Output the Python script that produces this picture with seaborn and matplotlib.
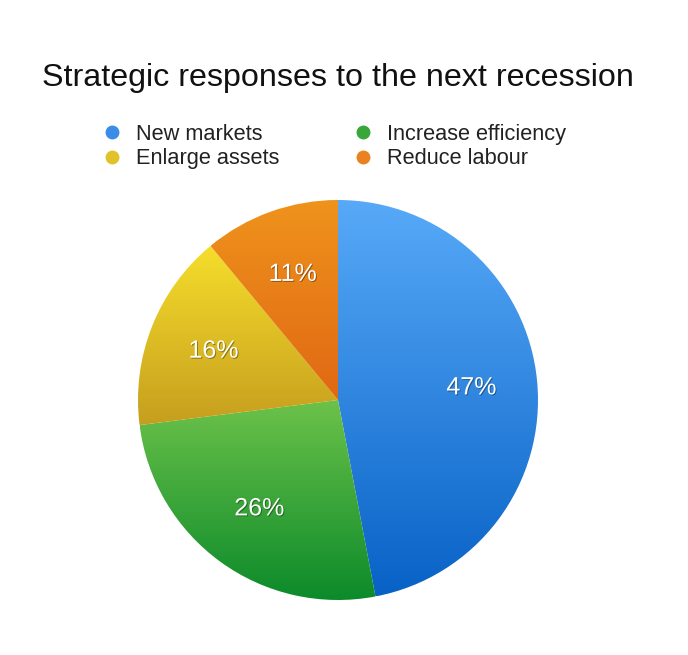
import matplotlib
matplotlib.use("Agg")
import matplotlib.pyplot as plt
import matplotlib.patheffects as pe
from matplotlib.colors import LinearSegmentedColormap
from matplotlib.lines import Line2D
import numpy as np
import seaborn as sns

# data
labels = ["New markets", "Increase efficiency", "Enlarge assets", "Reduce labour"]
shares = [47, 26, 16, 11]
top_colors = ["#58AAF8", "#6CC24A", "#F6DE2C", "#EF931C"]
bottom_colors = ["#0862C6", "#0C8A2A", "#C69E1E", "#E06814"]
dot_colors = ["#3A8CE6", "#38A638", "#E2C22A", "#EA8220"]
title = "Strategic responses to the next recession"

sns.set_theme(style="white")
plt.rcParams["font.family"] = ["Liberation Sans", "DejaVu Sans"]

W, H = 688, 655
fig = plt.figure(figsize=(W / 100, H / 100), dpi=100)

# pie axes: centre (338, 400) px, radius 200 px
cx, cy, r = 338, 400, 200
pad = 1.02
half = r * pad
ax = fig.add_axes([(cx - half) / W, (H - cy - half) / H, 2 * half / W, 2 * half / H])
ax.set_aspect("equal")
ax.axis("off")

wedges, texts, autotexts = ax.pie(
    shares,
    startangle=90,
    counterclock=False,
    radius=1,
    autopct="%d%%",
    pctdistance=0.67,
    colors=top_colors,
    wedgeprops={"linewidth": 0},
    textprops={"color": "white", "fontsize": 18},
)

# vertical gradient inside every slice
grad = np.linspace(0, 1, 256).reshape(-1, 1)
for w, c0, c1 in zip(wedges, top_colors, bottom_colors):
    ext = w.get_path().get_extents()
    cmap = LinearSegmentedColormap.from_list("g", [c0, c1])
    im = ax.imshow(grad, cmap=cmap, aspect="auto", origin="upper",
                   extent=(ext.x0, ext.x1, ext.y0, ext.y1), zorder=w.get_zorder())
    im.set_clip_path(w)
    w.set_alpha(0)
ax.set_xlim(-pad, pad)
ax.set_ylim(-pad, pad)

for t in autotexts:
    t.set_zorder(5)
    t.set_path_effects([pe.SimplePatchShadow(offset=(0.7, -0.7), shadow_rgbFace="black", alpha=0.35),
                        pe.Normal()])

fig.text(cx / W, 1 - 86 / H, title, ha="center", va="baseline", fontsize=23.2, color="#111111")

handles = [Line2D([], [], marker="o", linestyle="", markersize=10, markerfacecolor=c,
                  markeredgewidth=0) for c in dot_colors]
order = [0, 2, 1, 3]
leg = fig.legend([handles[i] for i in order], [labels[i] for i in order], ncol=2,
                 loc="upper left", bbox_to_anchor=(103.3 / W, 1 - 124 / H), frameon=False,
                 fontsize=15.7, handletextpad=0.7, columnspacing=3.45, labelspacing=0.16,
                 handlelength=0.8, borderpad=0, borderaxespad=0)
for t in leg.get_texts():
    t.set_color("#222222")

fig.savefig("out.png", dpi=100, facecolor="white")
